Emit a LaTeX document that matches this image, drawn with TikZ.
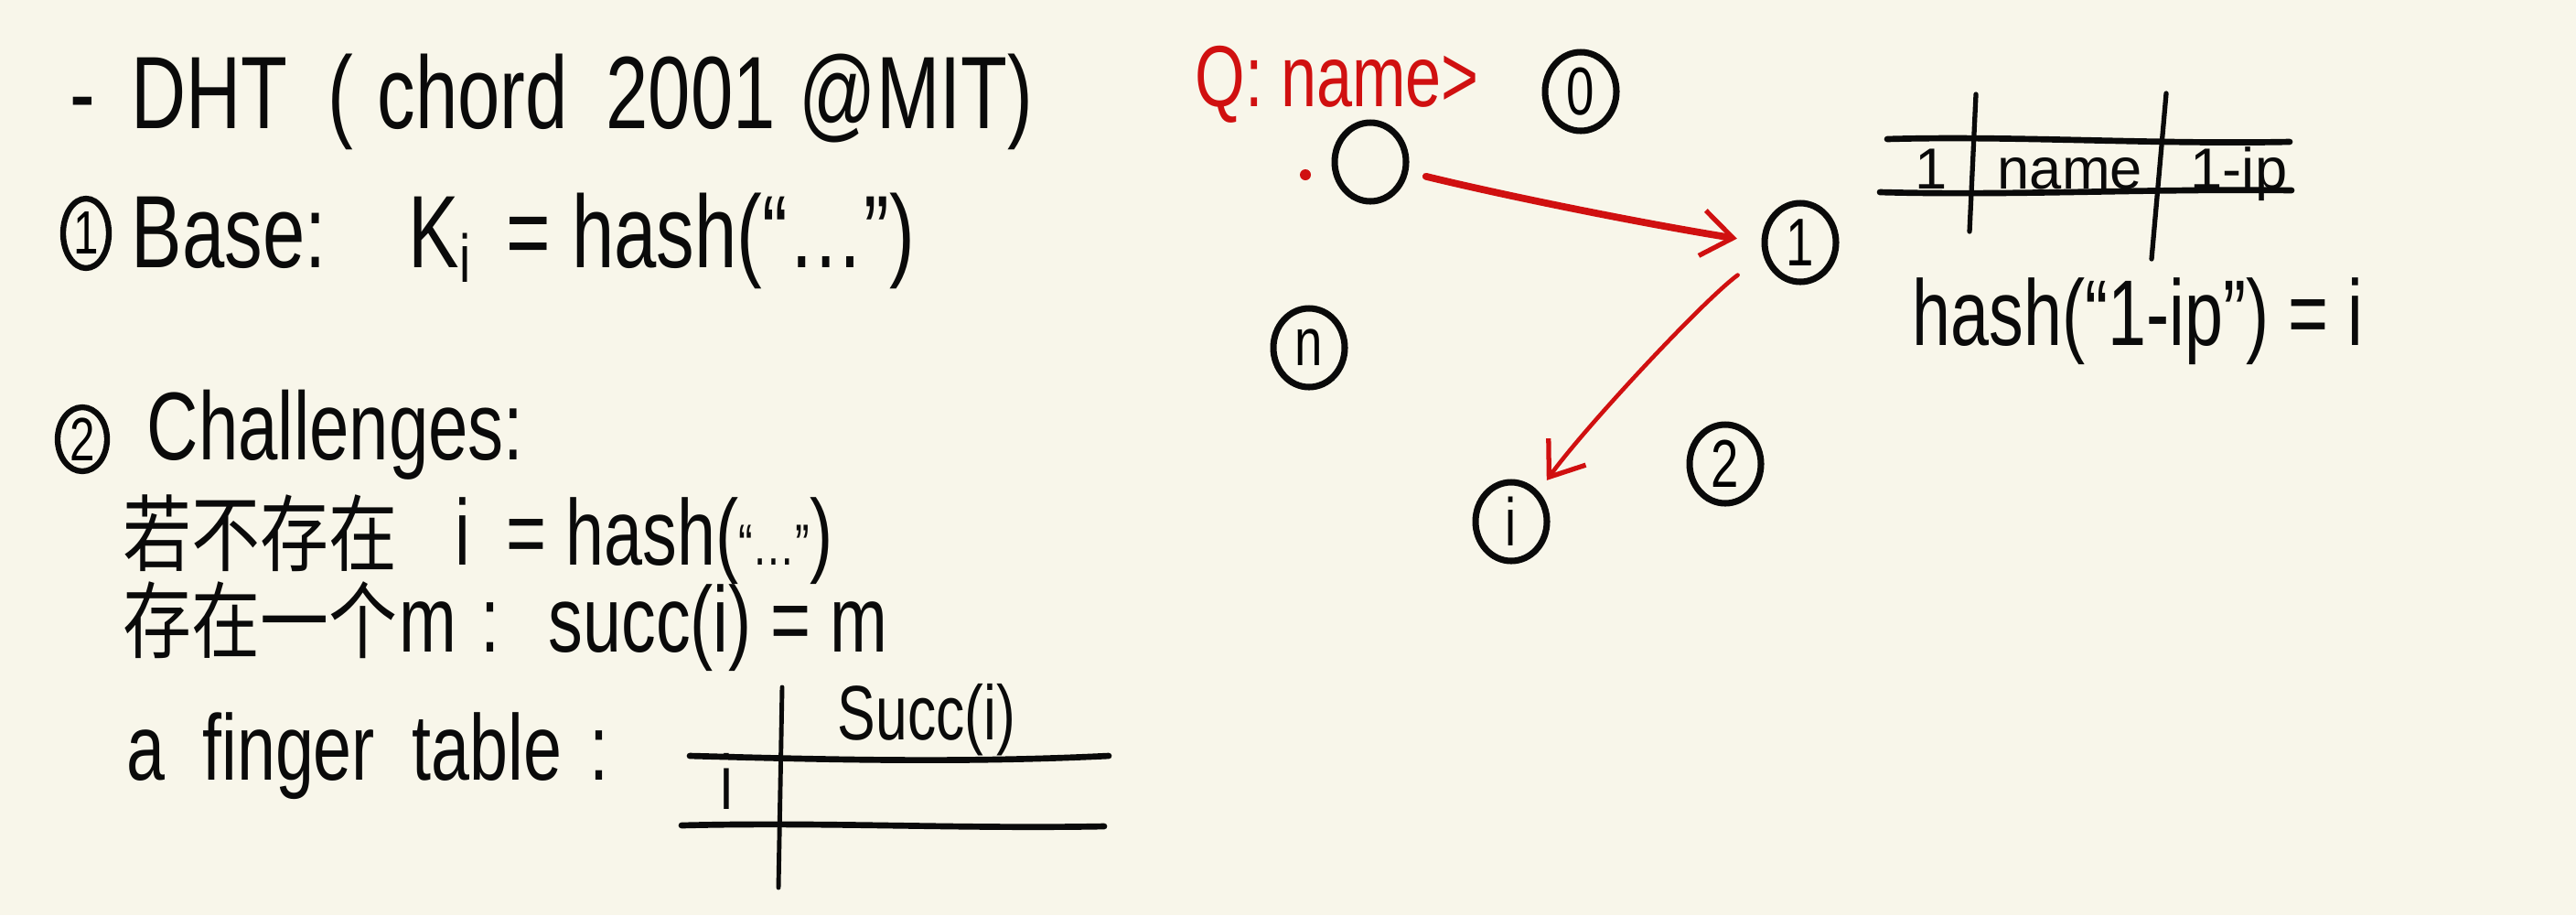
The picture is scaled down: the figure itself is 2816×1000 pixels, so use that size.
\documentclass[tikz,border=0pt]{standalone}
\usepackage{fontspec}
\setmainfont[FakeStretch=0.74]{Liberation Sans}
\newfontfamily\widefont{Liberation Sans}
\newfontfamily\cjk[FakeStretch=0.82]{Noto Sans CJK SC}
\usetikzlibrary{shapes.geometric,arrows.meta}
\definecolor{paper}{RGB}{248,246,234}
\definecolor{ink}{RGB}{10,10,10}
\definecolor{redink}{RGB}{208,16,16}
\begin{document}
\begin{tikzpicture}[x=0.1mm,y=-0.1mm,
  txt/.style={anchor=base west, inner sep=0pt, text=ink},
  big/.style={font=\fontsize{32}{38}\selectfont},
  chl/.style={font=\fontsize{30}{36}\selectfont},
  mid/.style={font=\fontsize{29}{34}\selectfont},
  han/.style={font=\fontsize{26}{30}\selectfont\cjk},
  small/.style={font=\fontsize{24}{28}\selectfont},
  cell/.style={font=\widefont\fontsize{18}{20}\selectfont},
  numcirc/.style={draw=ink, line width=1.8pt, ellipse, inner sep=0pt, minimum width=5mm, minimum height=7.6mm, font=\fontsize{19}{20}\selectfont},
  ring/.style={draw=ink, line width=2pt, ellipse, inner sep=0pt, minimum width=7.8mm, minimum height=8.6mm, font=\fontsize{21}{24}\selectfont},
  rule/.style={draw=ink, line width=1.9pt, line cap=round},
  redarrow/.style={draw=redink, line cap=round, -{Straight Barb[length=3.4mm,width=5mm,line width=1.5pt]}}
]
\fill[paper] (0,0) rectangle (2816,1000);
\useasboundingbox (0,0) rectangle (2816,1000);

% ---- line 1 ----
\node[txt,big] (dash) at (76,140) {-};
\node[txt,big] (dhtw) at (143,140) {DHT};
\node[txt,big] (lpar) at (358,140) {(};
\node[txt,big] (chord) at (412,140) {chord};
\node[txt,big] (year) at (662,140) {2001};
\node[txt,big] (mit) at (873,140) {@MIT)};

% ---- line 2 ----
\node[numcirc] (c1) at (94,255) {1};
\node[txt,big] (base) at (143,292) {Base:};
\node[txt,big] (ki) at (446,292) {K\raisebox{-0.15em}{\fontsize{21}{21}\selectfont i}};
\node[txt,big] (kihash) at (553,292) {= hash(“…”)};

% ---- challenges ----
\node[numcirc, minimum width=5.4mm, minimum height=7mm] (c2) at (90,480) {2};
\node[txt,chl] (chal) at (160,502) {Challenges:};

\node[txt,han] (l3a) at (134,617) {若不存在};
\node[txt,mid] (l3i) at (497,617) {i};
\node[txt,mid] (l3b) at (553,617) {= hash({\fontsize{18}{18}\selectfont“…”})};

\node[txt,han] (l4a) at (134,712) {存在一个};
\node[txt,mid] (l4m) at (436,712) {m};
\node[txt,mid] (l4b) at (525,712) {:};
\node[txt,mid] (l4c) at (599,712) {succ(i) = m};

\node[txt,mid] (l5) at (138,852) {a\hspace{0.4em}finger\hspace{0.4em}table\hspace{0.3em}:};

% finger table
\draw[rule] (754,826) .. controls (900,830) and (1050,834) .. (1212,826);
\draw[rule] (745,902) .. controls (900,898) and (1050,906) .. (1207,903);
\draw[rule, line width=1.4pt] (855,751) -- (851,970);
\node[txt,small] (succ) at (915,808) {Succ(i)};
\node[txt,small] (fi) at (787,884) {i};

% ---- right: ring ----
\node[txt, text=redink, font=\fontsize{27}{30}\selectfont] (q) at (1306,116) {Q: name>};
\node[ring] (n0) at (1728,100) {0};
\node[ring] (ns) at (1498,177) {};
\fill[redink] (1427,191) circle (0.6mm);
\node[ring] (n1) at (1968,265) {1};
\node[ring] (nn) at (1431,380) {n};
\node[ring] (n2) at (1886,507) {2};
\node[ring] (ni) at (1652,570) {i};

\draw[redarrow, line width=2.2pt, shorten <=2mm, shorten >=2.7mm]
  (ns.-15) .. controls (1650,215) and (1800,245) .. (n1.west);
\draw[redarrow, line width=1.3pt, shorten <=3.5mm, shorten >=1.5mm]
  (n1.200) .. controls (1860,330) and (1730,470) .. (ni.north east);

% node table
\draw[rule] (2063,152) .. controls (2200,148) and (2350,158) .. (2503,155);
\draw[rule] (2055,210) .. controls (2200,214) and (2350,206) .. (2505,208);
\draw[rule, line width=1.5pt] (2160,103) -- (2153,253);
\draw[rule, line width=1.5pt] (2368,102) -- (2352,283);
\node[txt,cell] (t1) at (2093,206) {1};
\node[txt,cell] (tname) at (2183,206) {name};
\node[txt,cell] (tip) at (2394,206) {1-ip};

\node[txt,mid] (hip) at (2090,377) {hash(“1-ip”) = i};
\end{tikzpicture}
\end{document}
